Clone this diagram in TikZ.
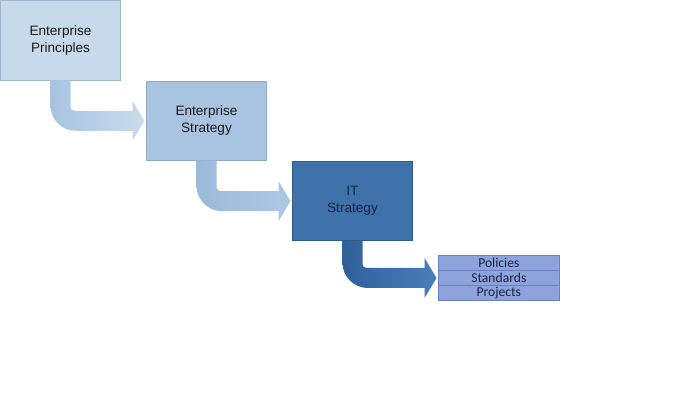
\documentclass[tikz,border=0pt]{standalone}
\usepackage{fontspec}
\setmainfont{Liberation Sans}
\newfontfamily\calibri{Carlito}
\usetikzlibrary{positioning,calc}
\definecolor{princfill}{HTML}{C6DAEC}
\definecolor{princline}{HTML}{9FB7CD}
\definecolor{estratfill}{HTML}{A8C4E0}
\definecolor{estratline}{HTML}{8DAACA}
\definecolor{itfill}{HTML}{3F72AA}
\definecolor{itline}{HTML}{2E5C8E}
\definecolor{ittext}{HTML}{16243A}
\definecolor{rowfill}{HTML}{8EA3DB}
\definecolor{rowline}{HTML}{6A80C0}
\definecolor{rowtext}{HTML}{1B2440}
\definecolor{arrA}{HTML}{A7C3DF}
\definecolor{arrAtip}{HTML}{CADCEE}
\definecolor{arrB}{HTML}{9BBADA}
\definecolor{arrBtip}{HTML}{AEC8E4}
\definecolor{arrC}{HTML}{30609A}
\definecolor{arrCtip}{HTML}{4A7EBA}

\begin{document}
\begin{tikzpicture}[x=0.75pt, y=-0.75pt, font=\fontsize{10.2}{12.8}\selectfont,
    box/.style={draw, align=center, minimum width=90pt, minimum height=59.5pt,
                inner sep=2pt, outer sep=0pt, line width=0.5pt},
    row/.style={draw=rowline, fill=rowfill, text=rowtext, minimum width=90.5pt,
                minimum height=11.25pt, inner sep=0pt, outer sep=0pt, line width=0.5pt,
                font=\calibri\fontsize{10.2}{11}\selectfont}]
  \useasboundingbox (0,0) rectangle (679,402);
  % the three steps, each one down and to the right of the last
  \node[box, draw=princline, fill=princfill, text=black!90] (princ) at (60.5,40.5)
       {Enterprise\\Principles};
  \node[box, draw=estratline, fill=estratfill, text=black!90,
        below right=0.75pt and 19.5pt of princ] (estrat) {Enterprise\\Strategy};
  \node[box, draw=itline, fill=itfill, text=ittext,
        below right=0.75pt and 19.5pt of estrat] (itstrat) {IT\\Strategy};
  % what IT strategy turns into
  \node[row, below right=11pt and 19.5pt of itstrat, anchor=north west] (pol) {Policies};
  \node[row, below=0pt of pol] (std) {Standards};
  \node[row, below=0pt of std] (proj) {Projects};
  % bent arrows from the bottom of one box to the side of the next
  \foreach \src/\dst/\lc/\rc in {princ/estrat/arrA/arrAtip,
                                 estrat/itstrat/arrB/arrBtip,
                                 itstrat/std/arrC/arrCtip}
    \shade[left color=\lc, right color=\rc]
      let \p1=(\src.south), \p2=(\dst.west) in
      (\x1-7.5pt,\y1) -- (\x1-7.5pt,\y2+11.5pt)
      arc[start angle=180, end angle=270, radius=19pt]
      -- (\x2-10.5pt,\y2-7.5pt) -- (\x2-10.5pt,\y2-15pt) -- (\x2-1.5pt,\y2)
      -- (\x2-10.5pt,\y2+15pt) -- (\x2-10.5pt,\y2+7.5pt) -- (\x1+10.5pt,\y2+7.5pt)
      arc[start angle=270, end angle=180, radius=3pt]
      -- (\x1+7.5pt,\y1) -- cycle;
\end{tikzpicture}
\end{document}
